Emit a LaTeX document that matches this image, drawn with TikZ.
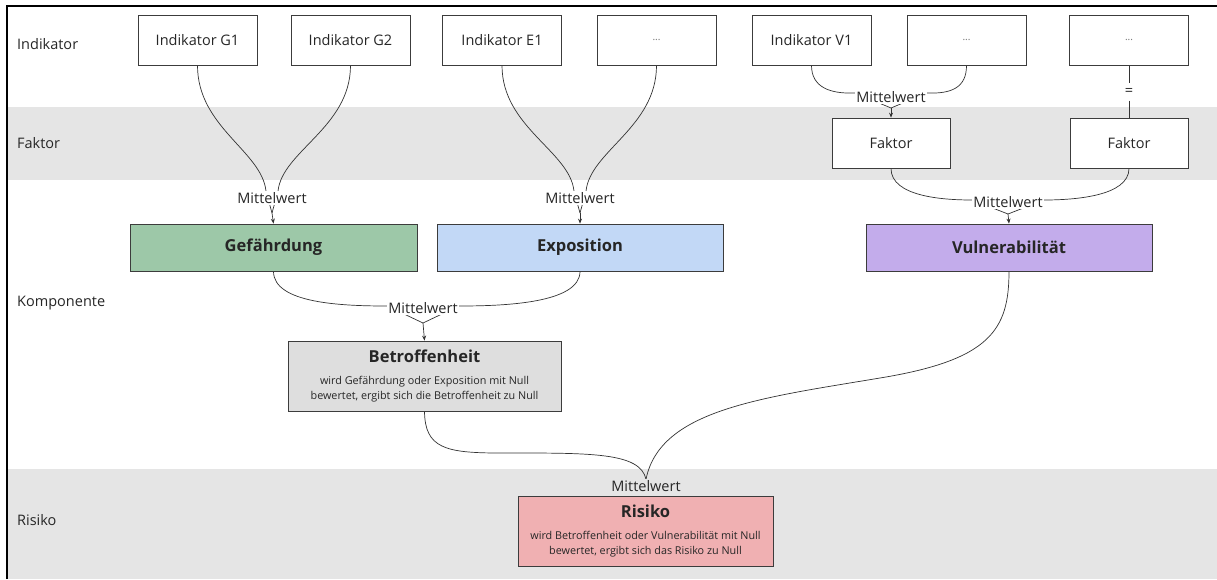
\documentclass[tikz,border=0pt]{standalone}
\usepackage{fontspec}
\setmainfont{Open Sans}
\usetikzlibrary{arrows.meta}
\pgfdeclarelayer{bands}
\pgfdeclarelayer{edges}
\pgfsetlayers{bands,edges,main}
\definecolor{bandc}{RGB}{229,229,229}
\definecolor{gefc}{RGB}{157,200,168}
\definecolor{expc}{RGB}{194,216,246}
\definecolor{vulc}{RGB}{195,172,235}
\definecolor{betc}{RGB}{222,222,222}
\definecolor{riskc}{RGB}{240,176,178}
\definecolor{edgec}{RGB}{60,60,60}
\begin{document}
\begin{tikzpicture}[x=1pt,y=-1pt,
  every node/.style={font=\fontsize{14.5}{17}\selectfont, text=black!85},
  ind/.style={draw=edgec, line width=0.8pt, fill=white, minimum width=119pt, minimum height=50pt, inner sep=0pt},
  comp/.style={draw=edgec, line width=0.8pt, minimum width=287pt, minimum height=47pt, inner sep=0pt, font=\fontsize{16.5}{20}\selectfont\bfseries},
  note/.style={draw=edgec, line width=0.8pt, minimum height=70pt, inner sep=0pt, align=center, font=\fontsize{10.8}{15}\selectfont},
  lbl/.style={inner sep=1pt, fill=white},
  rowlbl/.style={anchor=west, inner sep=0pt},
  conn/.style={draw=black!80, line width=0.7pt},
  arr/.style={conn, -{Stealth[length=5pt,width=4pt]}},
]
\useasboundingbox (0,0) rectangle (1217,579);
\begin{pgfonlayer}{bands}
  \fill[white] (0,0) rectangle (1217,579);
  \fill[bandc] (7,107) rectangle (1217,180);
  \fill[bandc] (7,469) rectangle (1217,579);
  \draw[line width=2.5pt] (7,579) -- (7,6) -- (1217,6);
\end{pgfonlayer}

% row labels
\node[rowlbl] (rI) at (17,44) {Indikator};
\node[rowlbl] (rF) at (17,143) {Faktor};
\node[rowlbl] (rK) at (17,303) {Komponente};
\node[rowlbl] (rR) at (17,520) {Risiko};

% indicators
\node[ind] (G1) at (197.5,40) {Indikator G1};
\node[ind] (G2) at (350.5,40) {Indikator G2};
\node[ind] (E1) at (502,40) {Indikator E1};
\node[ind] (E2) at (656.5,40) {\textcolor{black!55}{\fontsize{10}{12}\selectfont ...}};
\node[ind] (V1) at (811.5,40) {Indikator V1};
\node[ind] (V2) at (966.5,40) {\textcolor{black!55}{\fontsize{10}{12}\selectfont ...}};
\node[ind] (V3) at (1129,40) {\textcolor{black!55}{\fontsize{10}{12}\selectfont ...}};

% factors
\node[ind, minimum width=118pt] (F1) at (891,143) {Faktor};
\node[ind, minimum width=118pt] (F2) at (1129,143) {Faktor};
\node[inner xsep=1pt, inner ysep=5pt] (eq) at (1129,92) {=};

% components
\node[comp, fill=gefc] (Gef) at (273.5,247.5) {Gefährdung};
\node[comp, fill=expc, minimum width=286pt] (Exp) at (580,247.5) {Exposition};
\node[comp, fill=vulc, minimum width=286pt] (Vul) at (1009,247.5) {Vulnerabilität};

\node[note, fill=betc, minimum width=273pt] (Bet) at (424.5,376)
  {{\fontsize{16.5}{20}\selectfont\bfseries Betroffenheit}\\[7pt]
   wird Gefährdung oder Exposition mit Null\\
   bewertet, ergibt sich die Betroffenheit zu Null};
\node[note, fill=riskc, minimum width=255pt] (Risk) at (645.5,531)
  {{\fontsize{16.5}{20}\selectfont\bfseries Risiko}\\[7pt]
   wird Betroffenheit oder Vulnerabilität mit Null\\
   bewertet, ergibt sich das Risiko zu Null};

% Mittelwert labels
\node[lbl] (mG) at (272,198) {Mittelwert};
\node[lbl] (mE) at (580,198) {Mittelwert};
\node[lbl] (mV1) at (891,97) {Mittelwert};
\node[lbl] (mV2) at (1008,202) {Mittelwert};
\node[lbl] (mB) at (423,308) {Mittelwert};
\node[lbl, fill=bandc] (mR) at (646,486) {Mittelwert};

\coordinate (mGj) at (272,213);
\coordinate (mEj) at (580,213);
\coordinate (mV1j) at (891,108);
\coordinate (mV2j) at (1008,214);
\coordinate (mBj) at (423,323);

\begin{pgfonlayer}{edges}
  \draw[conn] (G1.south) .. controls +(0,62) and +(-4,-40) .. ([xshift=-6pt]mG.north) -- (mGj);
  \draw[conn] (G2.south) .. controls +(0,62) and +(4,-40) .. ([xshift=6pt]mG.north) -- (mGj);
  \draw[arr] (mGj) -- (Gef.north);
  \draw[conn] (E1.south) .. controls +(0,62) and +(-4,-40) .. ([xshift=-6pt]mE.north) -- (mEj);
  \draw[conn] (E2.south) .. controls +(0,62) and +(4,-40) .. ([xshift=6pt]mE.north) -- (mEj);
  \draw[arr] (mEj) -- (Exp.north);

  \draw[conn] (V1.south) .. controls +(0,22) and +(-25,1) .. ([yshift=4pt]mV1.west) -- (mV1j);
  \draw[conn] (V2.south) .. controls +(0,22) and +(25,1) .. ([yshift=4pt]mV1.east) -- (mV1j);
  \draw[arr] (mV1j) -- (F1.north);
  \draw[conn] (V3.south) -- (eq.north);
  \draw[conn] (eq.south) -- (F2.north);

  \draw[conn] (F1.south) .. controls +(0,28) and +(-30,0) .. ([yshift=2pt]mV2.west) -- (mV2j);
  \draw[conn] (F2.south) .. controls +(0,28) and +(30,0) .. ([yshift=2pt]mV2.east) -- (mV2j);
  \draw[arr] (mV2j) -- (Vul.north);

  \draw[conn] (Gef.south) .. controls +(0,32) and +(-45,0) .. ([yshift=2pt]mB.west) -- (mBj);
  \draw[conn] (Exp.south) .. controls +(0,32) and +(45,0) .. ([yshift=2pt]mB.east) -- (mBj);
  \draw[arr] (mBj) -- (Bet.north);

  \draw[conn] (Bet.south) .. controls (425,448) and (445,453) .. (500,453)
     .. controls (590,453) and (640,452) .. (mR.north);
  \draw[conn] (Vul.south) .. controls (1009,330) and (990,360) .. (880,378)
     .. controls (760,398) and (660,410) .. (mR.north);
\end{pgfonlayer}
\end{tikzpicture}
\end{document}
